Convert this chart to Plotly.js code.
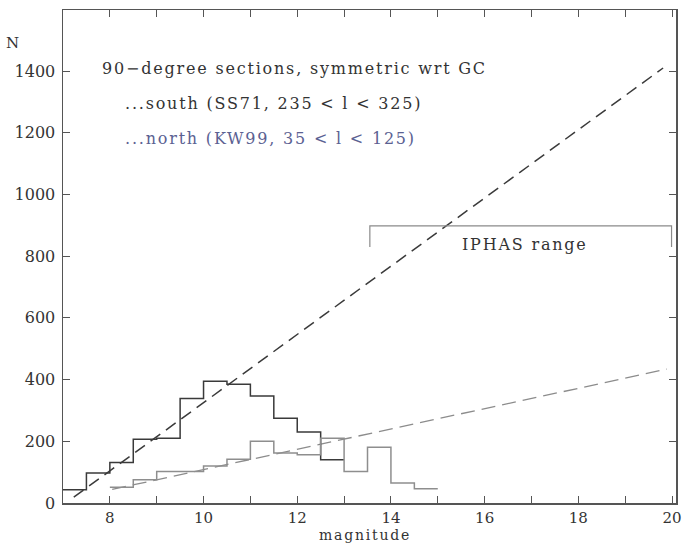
<!DOCTYPE html>
<html><head><meta charset="utf-8">
<script src="https://cdn.plot.ly/plotly-3.0.1.min.js"></script>
<style>
html,body{margin:0;padding:0;background:#fff;}
.annotation-text{letter-spacing:1.8px;}
</style>
</head><body>
<div id="chart" style="width:689px;height:544px;"></div>
<script>
// South histogram (SS71): bin edges and counts
const southEdges = [7.0, 7.5, 8.0, 8.5, 9.0, 9.5, 10.0, 10.5, 11.0, 11.5, 12.0, 12.5, 13.0];
const southCounts = [43, 97, 131, 207, 210, 339, 395, 385, 347, 275, 230, 140];
// North histogram (KW99)
const northEdges = [8.0, 8.5, 9.0, 9.5, 10.0, 10.5, 11.0, 11.5, 12.0, 12.5, 13.0, 13.5, 14.0, 14.5, 15.0];
const northCounts = [51, 75, 102, 102, 120, 142, 200, 162, 156, 210, 102, 181, 65, 46];
// Dashed reference lines
const southFitX = [7.23, 19.81];
const southFitY = [19, 1410];
const northFitX = [8.05, 19.89];
const northFitY = [44, 434];
// IPHAS range bracket
const iphasX = [13.55, 13.55, 19.99, 19.99];
const iphasY = [830, 898, 898, 830];
// Tick labels
const xTickVals = [8, 9, 10, 11, 12, 13, 14, 15, 16, 17, 18, 19, 20];
const xTickText = ['8', '', '10', '', '12', '', '14', '', '16', '', '18', '', '20'];
const yTickVals = [0, 200, 400, 600, 800, 1000, 1200, 1400];

function stepY(counts){ return counts.concat([counts[counts.length-1]]); }

const FONT = 'DejaVu Serif, Liberation Serif, serif';
const traces = [
  {x: southFitX, y: southFitY, mode: 'lines', line: {color: '#3a3a3a', width: 1.5, dash: '12px,7px'}, hoverinfo: 'skip'},
  {x: northFitX, y: northFitY, mode: 'lines', line: {color: '#8c8c8c', width: 1.3, dash: '14px,7px'}, hoverinfo: 'skip'},
  {x: southEdges, y: stepY(southCounts), mode: 'lines', line: {shape: 'hv', color: '#3a3a3a', width: 1.5}},
  {x: northEdges, y: stepY(northCounts), mode: 'lines', line: {shape: 'hv', color: '#8e8e8e', width: 1.5}},
  {x: iphasX, y: iphasY, mode: 'lines', line: {color: '#8a8a8a', width: 1.2}}
];

const layout = {
  width: 689, height: 544,
  margin: {l: 63, r: 13, t: 10, b: 41},
  showlegend: false,
  paper_bgcolor: '#fff', plot_bgcolor: '#fff',
  font: {family: FONT, size: 16, color: '#333'},
  xaxis: {
    range: [7, 20.085], showgrid: false, zeroline: false,
    tickmode: 'array', tickvals: xTickVals, ticktext: xTickText,
    ticks: 'inside', ticklen: 7, tickcolor: '#555', tickwidth: 1,
    showline: true, linecolor: '#555', linewidth: 1.5, mirror: 'ticks',
    tickfont: {family: FONT, size: 15, color: '#333'},
    ticklabelstandoff: 0
  },
  yaxis: {
    range: [0, 1598], showgrid: false, zeroline: false,
    tickmode: 'array', tickvals: yTickVals,
    ticks: 'inside', ticklen: 7, tickcolor: '#555', tickwidth: 1,
    showline: true, linecolor: '#555', linewidth: 1.5, mirror: 'ticks',
    tickfont: {family: FONT, size: 16, color: '#333'},
    ticklabelstandoff: 3
  },
  annotations: [
    {xref: 'paper', yref: 'paper', x: -0.08, y: (503-43)/493, text: 'N', showarrow: false, xanchor: 'center', yanchor: 'middle', font: {family: FONT, size: 15, color: '#333'}},
    {xref: 'paper', yref: 'paper', x: (365-63)/613, y: -(534.5-503)/493, text: 'magnitude', showarrow: false, xanchor: 'center', yanchor: 'middle', font: {family: FONT, size: 14, color: '#333'}},
    {x: 7.79, y: 1410, text: '90\u2212degree sections, symmetric wrt GC', showarrow: false, xanchor: 'left', yanchor: 'middle', font: {family: FONT, size: 16, color: '#333'}},
    {x: 8.28, y: 1296, text: '...south (SS71, 235 < l < 325)', showarrow: false, xanchor: 'left', yanchor: 'middle', font: {family: FONT, size: 16, color: '#333'}},
    {x: 8.28, y: 1183, text: '...north (KW99, 35 < l < 125)', showarrow: false, xanchor: 'left', yanchor: 'middle', font: {family: FONT, size: 16, color: '#5b6192'}},
    {x: 16.86, y: 839, text: 'IPHAS range', showarrow: false, xanchor: 'center', yanchor: 'middle', font: {family: FONT, size: 16, color: '#333'}}
  ]
};

Plotly.newPlot('chart', traces, layout, {staticPlot: true, displayModeBar: false});
</script>
</body></html>
